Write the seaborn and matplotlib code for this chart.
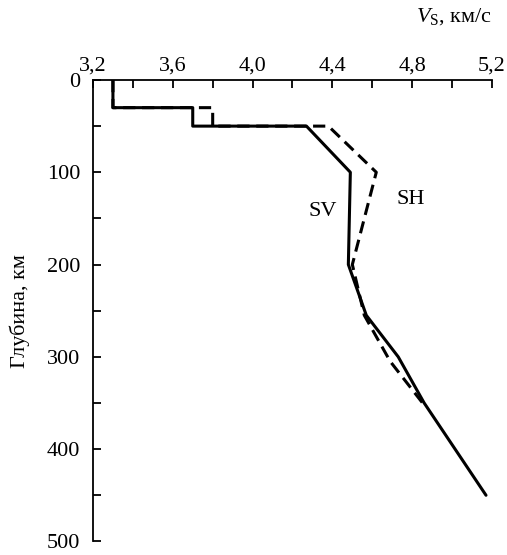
import matplotlib
matplotlib.use("Agg")
import matplotlib.pyplot as plt
import seaborn as sns
import pandas as pd
from matplotlib.ticker import MultipleLocator, FuncFormatter

# Data
sv_velocity = [3.3, 3.3, 3.7, 3.7, 4.27, 4.49, 4.48, 4.57, 4.73, 4.86, 5.17]
sv_depth = [0, 30, 30, 50, 50, 100, 200, 255, 300, 350, 450]
sh_velocity = [3.3, 3.3, 3.8, 3.8, 4.38, 4.62, 4.50, 4.56, 4.69, 4.87]
sh_depth = [0, 30, 30, 50, 50, 100, 200, 255, 305, 355]
x_ticks = [3.2, 3.6, 4.0, 4.4, 4.8, 5.2]
y_ticks = [0, 100, 200, 300, 400, 500]

sns.set_theme(style="white")
plt.rcParams['font.family'] = ['Liberation Serif', 'DejaVu Serif']
plt.rcParams['mathtext.fontset'] = 'custom'
plt.rcParams['mathtext.it'] = 'Liberation Serif:italic'
plt.rcParams['mathtext.rm'] = 'Liberation Serif'

fig = plt.figure(figsize=(5.07, 5.55), dpi=100)
ax = fig.add_axes([0.1834, 0.0245, 0.787, 0.8314])

sv = pd.DataFrame({"v": sv_velocity, "d": sv_depth})
sh = pd.DataFrame({"v": sh_velocity, "d": sh_depth})
sns.lineplot(data=sv, x="v", y="d", sort=False, estimator=None, color="black",
             linewidth=2.2, ax=ax)
sns.lineplot(data=sh, x="v", y="d", sort=False, estimator=None, color="black",
             linewidth=2.2, dashes=False, ax=ax)
ax.lines[-1].set_dashes([4, 2.2])

ax.set_xlim(3.2, 5.2)
ax.set_ylim(500, 0)

for s in ["right", "bottom"]:
    ax.spines[s].set_visible(False)
for s in ["left", "top"]:
    ax.spines[s].set_color("black")
    ax.spines[s].set_linewidth(1.3)

ax.xaxis.tick_top()
ax.set_xticks(x_ticks)
ax.xaxis.set_minor_locator(MultipleLocator(0.2))
ax.xaxis.set_major_formatter(FuncFormatter(lambda v, p: f"{v:.1f}".replace(".", ",")))
ax.set_yticks(y_ticks)
ax.yaxis.set_minor_locator(MultipleLocator(50))
ax.tick_params(axis="both", which="both", direction="in", color="black",
               width=1.3, labelsize=16, labelcolor="black")
ax.tick_params(axis="x", which="both", top=True, bottom=False, length=6, pad=3)
ax.tick_params(axis="y", which="both", left=True, right=False, length=6, pad=9)

ax.set_xlabel("")
ax.set_ylabel("Глубина, км", fontsize=16, color="black", labelpad=12)
ax.text(1.0, 1.115, r"$V_\mathrm{S}$, км/с", transform=ax.transAxes,
        ha="right", va="bottom", fontsize=16, color="black")

ax.text(4.35, 143, "SV", fontsize=16, ha="center", va="center", color="black")
ax.text(4.79, 129, "SH", fontsize=16, ha="center", va="center", color="black")

fig.savefig("out.png", dpi=100, facecolor="white")
